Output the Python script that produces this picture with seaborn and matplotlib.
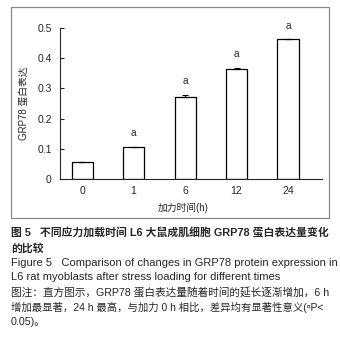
import numpy as np
import pandas as pd
from matplotlib import pyplot as plt
from matplotlib.patches import Rectangle
import seaborn as sns

# GRP78 expression after different loading times
times = ["0", "1", "6", "12", "24"]
expression = [0.057, 0.107, 0.273, 0.365, 0.462]
errors = [0.0, 0.0, 0.006, 0.004, 0.002]
marks = ["", "a", "a", "a", "a"]
yticks = [0, 0.1, 0.2, 0.3, 0.4, 0.5]
ytick_labels = ["0", "0.1", "0.2", "0.3", "0.4", "0.5"]

# caption lines: text, weight, size
caption = [
    ("图 5   不同应力加载时间 L6 大鼠成肌细胞 GRP78 蛋白表达量变化", "bold", 7.8),
    ("的比较", "bold", 7.8),
    ("Figure 5   Comparison of changes in GRP78 protein expression in", "normal", 8.0),
    ("L6 rat myoblasts after stress loading for different times", "normal", 8.0),
    ("图注：直方图示，GRP78 蛋白表达量随着时间的延长逐渐增加，6 h", "normal", 7.7),
    ("增加最显著，24 h 最高，与加力 0 h 相比，差异均有显著性意义(ᵃP<", "normal", 7.45),
    ("0.05)。", "normal", 7.7),
]

sns.set_style("ticks")
plt.rcParams["font.family"] = ["Liberation Sans", "Noto Sans CJK SC", "DejaVu Sans"]

df = pd.DataFrame({"time": times, "expr": expression})

fig = plt.figure(figsize=(3.4, 3.41), dpi=100)
ax = fig.add_axes([60 / 340, 1 - 179 / 341, 262 / 340, 151 / 341])

sns.barplot(data=df, x="time", y="expr", order=times, color="white",
            edgecolor="black", linewidth=0.9, width=0.41, errorbar=None, ax=ax)
ax.errorbar(np.arange(len(times)), expression, yerr=[[0] * len(times), errors],
            fmt="none", ecolor="black", elinewidth=0.8, capsize=2.5, capthick=0.8)

for i, (v, e, m) in enumerate(zip(expression, errors, marks)):
    if m:
        ax.annotate(m, xy=(i, v + e), xytext=(0, 6), textcoords="offset points",
                    ha="center", va="bottom", fontsize=7.3)

ax.set_xlim(-0.43, 4.66)
ax.set_ylim(0, 0.5)
ax.set_yticks(yticks)
ax.set_yticklabels(ytick_labels)
ax.tick_params(axis="y", direction="in", length=3, width=0.8, labelsize=7.5, pad=6)
ax.tick_params(axis="x", length=0, labelsize=7.5, pad=5)
sns.despine(ax=ax)
ax.spines["left"].set_linewidth(0.8)
ax.spines["bottom"].set_linewidth(0.8)
ax.set_xlabel("加力时间(h)", fontsize=7, labelpad=5)
ax.set_ylabel("GRP78 蛋白表达", fontsize=7, labelpad=6)
ax.xaxis.set_label_coords(0.47, -0.155)

fig.patches.append(Rectangle((11 / 340, 1 - 218 / 341), 318 / 340, 211 / 341,
                             transform=fig.transFigure, fill=False,
                             edgecolor="#8a8a8a", linewidth=0.9))

y0 = 233
for k, (line, weight, size) in enumerate(caption):
    fig.text(11 / 340, 1 - (y0 + k * 14.8) / 341, line, fontsize=size,
             fontweight=weight, va="center", ha="left")

fig.savefig("out.png", dpi=100)
